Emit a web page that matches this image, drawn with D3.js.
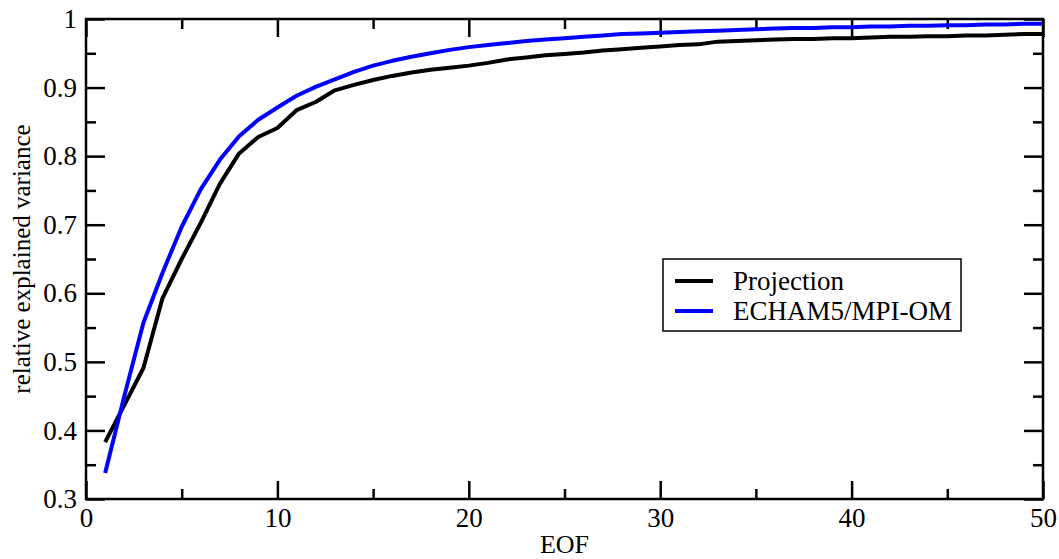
<!DOCTYPE html>
<html>
<head>
<meta charset="utf-8">
<script src="https://cdn.jsdelivr.net/npm/d3@7"></script>
<style>
  html, body { margin: 0; padding: 0; background: #fff; }
  svg { display: block; }
  text { font-family: "Liberation Serif", "Times New Roman", serif; fill: #000; }
</style>
</head>
<body>
<svg id="chart" width="1059" height="559"></svg>
<script>
// ---- data ----
const eof = d3.range(1, 51);
const projection = [
  0.383, 0.437, 0.491, 0.593, 0.650, 0.703, 0.760, 0.804, 0.828, 0.841,
  0.867, 0.879, 0.896, 0.904, 0.911, 0.917, 0.922, 0.926, 0.929, 0.932,
  0.936, 0.941, 0.944, 0.947, 0.949, 0.951, 0.954, 0.956, 0.958, 0.960,
  0.962, 0.963, 0.967, 0.968, 0.969, 0.970, 0.971, 0.971, 0.972, 0.972,
  0.973, 0.974, 0.974, 0.975, 0.975, 0.976, 0.976, 0.977, 0.978, 0.978
];
const echam = [
  0.338, 0.450, 0.557, 0.630, 0.697, 0.752, 0.795, 0.829, 0.853, 0.871,
  0.888, 0.901, 0.912, 0.923, 0.932, 0.939, 0.945, 0.950, 0.955, 0.959,
  0.962, 0.965, 0.968, 0.970, 0.972, 0.974, 0.976, 0.978, 0.979, 0.980,
  0.981, 0.982, 0.983, 0.984, 0.985, 0.986, 0.987, 0.987, 0.988, 0.988,
  0.989, 0.989, 0.990, 0.990, 0.991, 0.991, 0.992, 0.992, 0.993, 0.993
];
const seriesNames = ["Projection", "ECHAM5/MPI-OM"];
const seriesColors = ["#000000", "#0000ff"];
const xMajorTicks = [0, 10, 20, 30, 40, 50];
const xMinorTicks = [5, 15, 25, 35, 45];
const yMajorTicks = [0.3, 0.4, 0.5, 0.6, 0.7, 0.8, 0.9, 1.0];
const yMinorTicks = [0.35, 0.45, 0.55, 0.65, 0.75, 0.85, 0.95];
const xTitle = "EOF";
const yTitle = "relative explained variance";

// ---- layout ----
const L = 86, R = 1043, T = 19, B = 499;
const svg = d3.select("#chart");
const x = d3.scaleLinear().domain([0, 50]).range([L, R]);
const y = d3.scaleLinear().domain([0.3, 1]).range([B, T]);
const fontSize = 27;
const fmtY = d => (d === 1 ? "1" : d.toFixed(1));

function styleAxis(g, showText) {
  g.select(".domain").remove();
  g.selectAll(".tick line").attr("stroke", "#000").attr("stroke-width", 2.5);
  g.selectAll(".tick text")
    .style("font-family", '"Liberation Serif", "Times New Roman", serif')
    .style("font-size", fontSize + "px")
    .attr("fill", "#000");
  if (!showText) g.selectAll(".tick text").remove();
}

// bottom
svg.append("g").attr("transform", `translate(0,${B})`)
  .call(d3.axisBottom(x).tickValues(xMajorTicks).tickSize(-18).tickPadding(9).tickFormat(d3.format("d")))
  .call(g => styleAxis(g, true));
svg.append("g").attr("transform", `translate(0,${B})`)
  .call(d3.axisBottom(x).tickValues(xMinorTicks).tickSize(-10).tickFormat(""))
  .call(g => styleAxis(g, false));
// top
svg.append("g").attr("transform", `translate(0,${T})`)
  .call(d3.axisTop(x).tickValues(xMajorTicks).tickSize(-18).tickFormat(""))
  .call(g => styleAxis(g, false));
svg.append("g").attr("transform", `translate(0,${T})`)
  .call(d3.axisTop(x).tickValues(xMinorTicks).tickSize(-10).tickFormat(""))
  .call(g => styleAxis(g, false));
// left
svg.append("g").attr("transform", `translate(${L},0)`)
  .call(d3.axisLeft(y).tickValues(yMajorTicks).tickSize(-19).tickPadding(9).tickFormat(fmtY))
  .call(g => styleAxis(g, true));
svg.append("g").attr("transform", `translate(${L},0)`)
  .call(d3.axisLeft(y).tickValues(yMinorTicks).tickSize(-10).tickFormat(""))
  .call(g => styleAxis(g, false));
// right
svg.append("g").attr("transform", `translate(${R},0)`)
  .call(d3.axisRight(y).tickValues(yMajorTicks).tickSize(-19).tickFormat(""))
  .call(g => styleAxis(g, false));
svg.append("g").attr("transform", `translate(${R},0)`)
  .call(d3.axisRight(y).tickValues(yMinorTicks).tickSize(-10).tickFormat(""))
  .call(g => styleAxis(g, false));

// lines
const line = d3.line().x((d, i) => x(eof[i])).y(d => y(d));
[projection, echam].forEach((s, k) => {
  svg.append("path").datum(s)
    .attr("fill", "none")
    .attr("stroke", seriesColors[k])
    .attr("stroke-width", 4)
    .attr("stroke-linejoin", "round")
    .attr("d", line);
});

// frame
svg.append("rect")
  .attr("x", L).attr("y", T).attr("width", R - L).attr("height", B - T)
  .attr("fill", "none").attr("stroke", "#000").attr("stroke-width", 2.5);

// axis titles
svg.append("text")
  .attr("x", (L + R) / 2).attr("y", 553)
  .attr("text-anchor", "middle")
  .style("font-size", "26px")
  .text(xTitle);
svg.append("text")
  .attr("transform", `translate(30,${(T + B) / 2}) rotate(-90)`)
  .attr("text-anchor", "middle")
  .style("font-size", "25px")
  .text(yTitle);

// legend
const lg = svg.append("g");
lg.append("rect")
  .attr("x", 663).attr("y", 259).attr("width", 298).attr("height", 72)
  .attr("fill", "#fff").attr("stroke", "#000").attr("stroke-width", 1.5);
seriesNames.forEach((name, k) => {
  const ly = 281 + k * 30;
  lg.append("line")
    .attr("x1", 675).attr("x2", 713).attr("y1", ly).attr("y2", ly)
    .attr("stroke", seriesColors[k]).attr("stroke-width", 4);
  lg.append("text")
    .attr("x", 733).attr("y", ly + 9)
    .style("font-size", fontSize + "px")
    .text(name);
});
</script>
</body>
</html>
